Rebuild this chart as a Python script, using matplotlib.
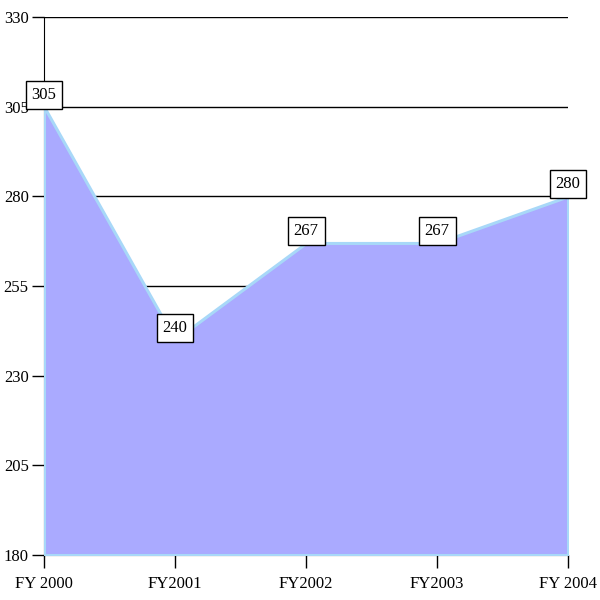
import matplotlib.pyplot as plt

years = ['FY 2000', 'FY2001', 'FY2002', 'FY2003', 'FY 2004']
values = [305, 240, 267, 267, 280]
y_ticks = [180, 205, 230, 255, 280, 305, 330]

plt.rcParams['font.family'] = ['Liberation Serif', 'DejaVu Serif']

fig = plt.figure(figsize=(6, 6), dpi=100)
ax = fig.add_axes([44 / 600, 45 / 600, 524 / 600, 538 / 600])

x = list(range(len(years)))
ax.fill_between(x, values, 180, facecolor='#aaaaff', edgecolor='#a8d8f8',
                linewidth=2.2, zorder=3)

for yt in y_ticks[1:]:
    ax.axhline(yt, color='black', linewidth=1, zorder=1)

# value labels sit right on top of each point
for xi, v in zip(x, values):
    ax.annotate(str(v), (xi, v), xytext=(0, 3), textcoords='offset points',
                ha='center', va='bottom', fontsize=12, zorder=5,
                bbox=dict(boxstyle='square,pad=0.36', facecolor='white',
                          edgecolor='black', linewidth=1))

ax.set_xlim(0, len(years) - 1)
ax.set_ylim(180, 330)
ax.set_yticks(y_ticks)
ax.set_xticks(x)
ax.set_xticklabels(years)
ax.tick_params(axis='both', labelsize=12, length=9, width=1, color='black')
ax.tick_params(axis='x', pad=6)
ax.tick_params(axis='y', pad=2)
for side in ['top', 'right']:
    ax.spines[side].set_visible(False)
ax.spines['left'].set_zorder(1)
ax.spines['bottom'].set_zorder(1)
ax.set_axisbelow(True)

fig.savefig('out.png', dpi=100)
